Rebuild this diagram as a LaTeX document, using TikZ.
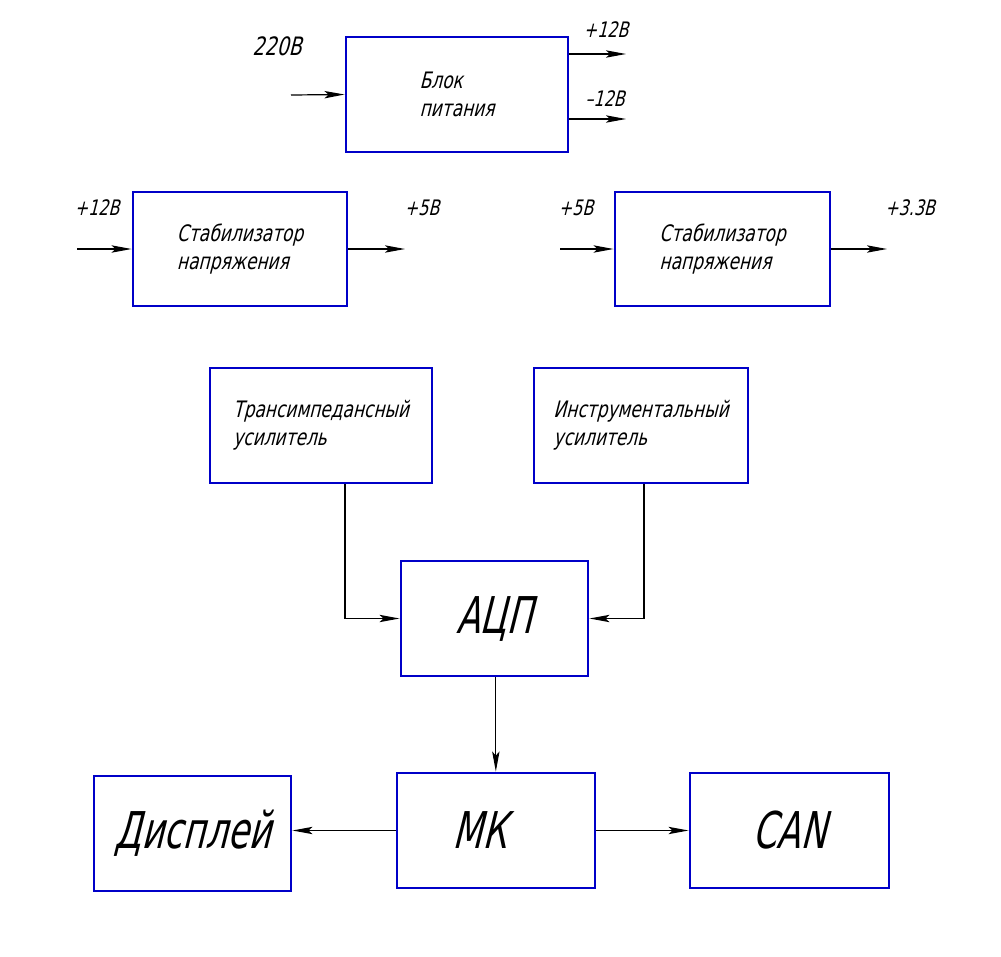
\documentclass[tikz,border=0pt]{standalone}
\usepackage{fontspec}
\setmainfont{DejaVu Sans}[FakeSlant=0.25,FakeStretch=0.75]
\newfontfamily\gostbig{DejaVu Sans}[FakeSlant=0.25,FakeStretch=0.68]
\usetikzlibrary{arrows.meta}

\definecolor{gostblue}{RGB}{0,0,200}
\tikzset{every picture/.style={line width=0.9pt}}
\tikzset{
  blok/.style={draw=gostblue, line width=2.2pt, inner sep=0pt, align=left, font=\fontsize{17}{21}\selectfont},
  bigblok/.style={blok, font=\gostbig\fontsize{38}{40}\selectfont},
  nadpis/.style={inner sep=0pt, font=\fontsize{16}{18}\selectfont},
  strelka/.style={-{Stealth[length=15pt,width=5.5pt,inset=3pt]}, line width=0.9pt},
}

\begin{document}
\begin{tikzpicture}[x=0.75pt,y=0.75pt,yscale=-1,xscale=1]
\useasboundingbox (0,0) rectangle (1001,957);

%Shape: Rectangle [power supply]
\node[blok, minimum width=166.5pt, minimum height=86.25pt] (psu) at (457,94.5) {Блок\\питания};
%Shape: Rectangle [stabilizers]
\node[blok, minimum width=160.5pt, minimum height=85.5pt] (stab1) at (240,249) {Стабилизатор\\напряжения};
\node[blok, minimum width=161.25pt, minimum height=85.5pt] (stab2) at (722.5,249) {Стабилизатор\\напряжения};
%Shape: Rectangle [amplifiers]
\node[blok, minimum width=166.5pt, minimum height=86.25pt] (trans) at (321,425.5) {Трансимпедансный\\усилитель};
\node[blok, minimum width=160.5pt, minimum height=86.25pt] (instr) at (641,425.5) {Инструментальный\\усилитель};
%Shape: Rectangle [adc, mcu, display, can]
\node[bigblok, minimum width=140.25pt, minimum height=86.25pt] (adc) at (494.5,618.5) {АЦП};
\node[bigblok, minimum width=148.5pt, minimum height=86.25pt] (mk) at (496,830.5) {МК\hspace*{24pt}};
\node[bigblok, minimum width=147.75pt, minimum height=86.25pt] (disp) at (192.5,833.5) {Дисплей};
\node[bigblok, minimum width=149.25pt, minimum height=86.25pt] (can) at (789.5,830.5) {CAN};

%Free ends of the power lines
\coordinate (in220) at (291,95);
\coordinate (out12p) at (626,54);
\coordinate (out12m) at (626,119);
\coordinate (s1in) at (77,249);
\coordinate (s1out) at (405,249);
\coordinate (s2in) at (560,249);
\coordinate (s2out) at (887,249);

%Straight Lines
\draw[strelka] (in220) -- (psu.west);
\draw[strelka] (psu.east |- out12p) -- (out12p);
\draw[strelka] (psu.east |- out12m) -- (out12m);
\draw[strelka] (s1in) -- (stab1.west);
\draw[strelka] (stab1.east) -- (s1out);
\draw[strelka] (s2in) -- (stab2.west);
\draw[strelka] (stab2.east) -- (s2out);
\draw[strelka] ([xshift=18pt]trans.south) |- (adc.west);
\draw[strelka] ([xshift=2.25pt]instr.south) |- (adc.east);
\draw[strelka] ([xshift=1pt]adc.south) -- ([xshift=1pt]adc.south |- mk.north);
\draw[strelka] (mk.west) -- (mk.west -| disp.east);
\draw[strelka] (mk.east) -- (can.west);

% Text Node
\node[nadpis, font=\fontsize{19}{20}\selectfont] (t220) at (277,46) {220В};
\node[nadpis] (t12p) at (606,30) {+12В};
\node[nadpis] (t12m) at (605,99) {–12В};
\node[nadpis] (ts1in) at (97,208) {+12В};
\node[nadpis] (ts1out) at (422,208) {+5В};
\node[nadpis] (ts2in) at (576,208) {+5В};
\node[nadpis] (ts2out) at (910,208) {+3.3В};

\end{tikzpicture}
\end{document}
